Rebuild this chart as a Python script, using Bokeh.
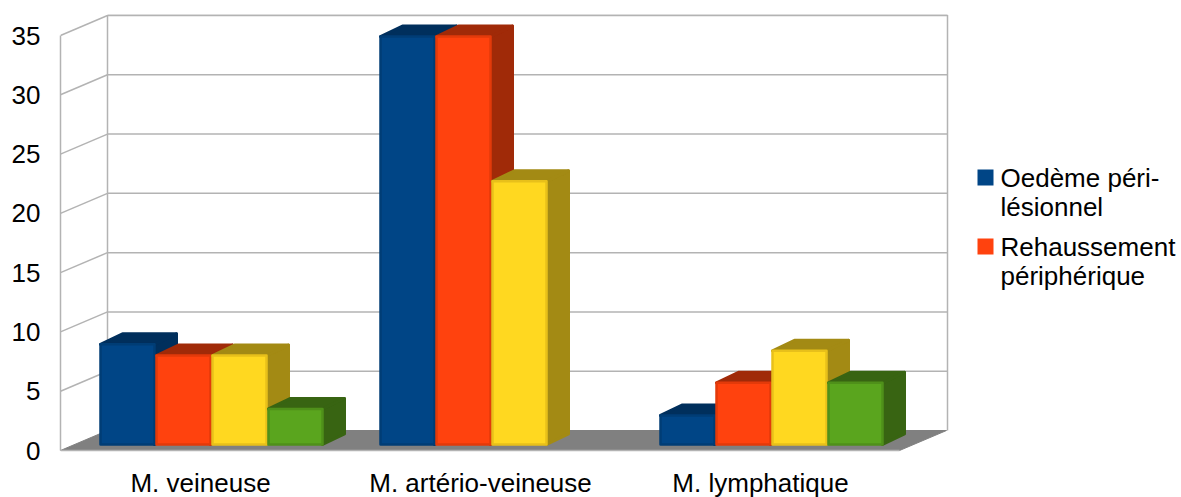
from bokeh.core.properties import value
from bokeh.embed import file_html
from bokeh.models import FixedTicker, LinearAxis, Range1d
from bokeh.plotting import figure
from bokeh.resources import INLINE

categories = ["M. veineuse", "M. artério-veineuse", "M. lymphatique"]
legend_labels = ["Oedème péri-\nlésionnel", "Rehaussement\npériphérique"]
series_values = {
    "blue": [8.45, 34.4, 2.45],
    "orange": [7.5, 34.4, 5.2],
    "yellow": [7.5, 22.2, 7.9],
    "green": [3.0, None, 5.2],
}
y_ticks = [0, 5, 10, 15, 20, 25, 30, 35]

front_colors = {"blue": "#004586", "orange": "#ff420e", "yellow": "#ffd820", "green": "#5aa51e"}
edge_colors = {"blue": "#003d75", "orange": "#e33a0a", "yellow": "#e8c01a", "green": "#4f901a"}
shade_colors = {"blue": "#002f5c", "orange": "#a02a08", "yellow": "#a38a14", "green": "#386412"}

GRID = "#b3b3b3"
FLOOR = "#808080"

# Plot frame geometry: one x unit is a category step, y is in value units
PX_X = 280.0
PX_Y = 11.857
FRAME_L, FRAME_R, FRAME_T, FRAME_B = 60, 1181, 14, 464
BASE_PX = 450
WALL_R = 947


def to_x(px):
    return (px - 200) / PX_X


def to_y(py):
    return (BASE_PX - py) / PX_Y


x_start, x_end = to_x(FRAME_L), to_x(FRAME_R)
y_start, y_end = to_y(FRAME_B), to_y(FRAME_T)
x_wall = to_x(WALL_R)
y_top = to_y(14.5)

# Oblique offsets for the box walls and for the bars standing on the floor
wall_dx = 47 / PX_X
wall_dy = 20 / PX_Y
bar_shift_x = 12 / PX_X
bar_base = 6 / PX_Y
bar_dx = 22 / PX_X
bar_dy = 10.5 / PX_Y
bar_w = 54 / PX_X
bar_step = 56 / PX_X

p = figure(
    width=1181, height=497,
    frame_width=FRAME_R - FRAME_L, frame_height=FRAME_B - FRAME_T,
    x_range=Range1d(x_start, x_end), y_range=Range1d(y_start, y_end),
    output_backend="svg", toolbar_location=None,
    x_axis_type=None, y_axis_type=None,
    min_border_left=FRAME_L, min_border_right=0,
    min_border_top=FRAME_T, min_border_bottom=0,
    outline_line_color=None,
)
p.grid.visible = False

# Box: floor, back wall, side wall and value gridlines
floor_right = x_wall - 1 / PX_X
p.patch([x_start, x_start + wall_dx, floor_right, floor_right - wall_dx],
        [0, wall_dy, wall_dy, 0], fill_color=FLOOR, line_color=FLOOR, line_width=1)
gy0 = y_ticks[1:]
gy1 = [t + wall_dy for t in gy0]
p.segment([x_start] * len(gy0), gy0, [x_start + wall_dx] * len(gy0), gy1,
          line_color=GRID, line_width=1.5)
p.segment([x_start + wall_dx] * len(gy0), gy1, [x_wall] * len(gy0), gy1,
          line_color=GRID, line_width=1.5)
p.segment([x_start + wall_dx, x_wall], [wall_dy] * 2,
          [x_start + wall_dx, x_wall], [y_top] * 2,
          line_color=GRID, line_width=1.5)
p.segment([x_start + wall_dx], [y_top], [x_wall], [y_top],
          line_color=GRID, line_width=1.5)
p.line([x_start, floor_right - wall_dx], [0, 0], line_color=GRID, line_width=1.5)

# Bars, one series at a time so each bar covers the side of its left neighbour
for si, key in enumerate(series_values):
    fx, fy, sx, sy, tx, ty = [], [], [], [], [], []
    for gi, v in enumerate(series_values[key]):
        if v is None:
            continue
        x0 = gi + bar_shift_x + (si - 2) * bar_step
        x1 = x0 + bar_w
        y0 = bar_base
        y1 = bar_base + v
        fx.append([x0, x1, x1, x0])
        fy.append([y0, y0, y1, y1])
        sx.append([x1, x1 + bar_dx, x1 + bar_dx, x1])
        sy.append([y0, y0 + bar_dy, y1 + bar_dy, y1])
        tx.append([x0, x0 + bar_dx, x1 + bar_dx, x1])
        ty.append([y1, y1 + bar_dy, y1 + bar_dy, y1])
    p.patches(sx, sy, fill_color=shade_colors[key], line_color=shade_colors[key],
              line_width=3, line_join="round")
    p.patches(tx, ty, fill_color=shade_colors[key], line_color=shade_colors[key],
              line_width=3, line_join="round")
    p.patches(fx, fy, fill_color=front_colors[key], line_color=edge_colors[key],
              line_width=2.5, line_join="round")

# Axes
y_axis = LinearAxis(
    ticker=FixedTicker(ticks=y_ticks), bounds=(0, 35),
    axis_line_color=GRID, axis_line_width=1.5,
    major_tick_line_color=None, minor_tick_line_color=None,
    major_tick_in=0, major_tick_out=0, minor_tick_in=0, minor_tick_out=0,
    major_label_text_font="Liberation Sans", major_label_text_font_size="26px",
    major_label_text_color="#000000", major_label_standoff=20,
)
p.add_layout(y_axis, "left")

x_axis = LinearAxis(
    ticker=FixedTicker(ticks=[0, 1, 2]),
    major_label_overrides={i: c for i, c in enumerate(categories)},
    axis_line_color=None, major_tick_line_color=None, minor_tick_line_color=None,
    major_tick_in=0, major_tick_out=0, minor_tick_in=0, minor_tick_out=0,
    major_label_text_font="Liberation Sans", major_label_text_font_size="26px",
    major_label_text_color="#000000", major_label_standoff=3,
)
p.add_layout(x_axis, "below")

# Key for the first two series: swatch beside a two-line label
swatch_tops = [169, 238]
series_keys = list(series_values)
for key, label, top in zip(series_keys, legend_labels, swatch_tops):
    p.quad(left=[to_x(977)], right=[to_x(993)], top=[to_y(top)], bottom=[to_y(top + 16)],
           fill_color=front_colors[key], line_color=None)
    p.text(x=[to_x(1000)], y=[to_y(top - 7)], text=[label],
           text_font=value("Liberation Sans"), text_font_size="26px",
           text_color="#000000", text_baseline="top", text_align="left",
           text_line_height=0.98)

open("out.html", "w").write(file_html(p, INLINE))
